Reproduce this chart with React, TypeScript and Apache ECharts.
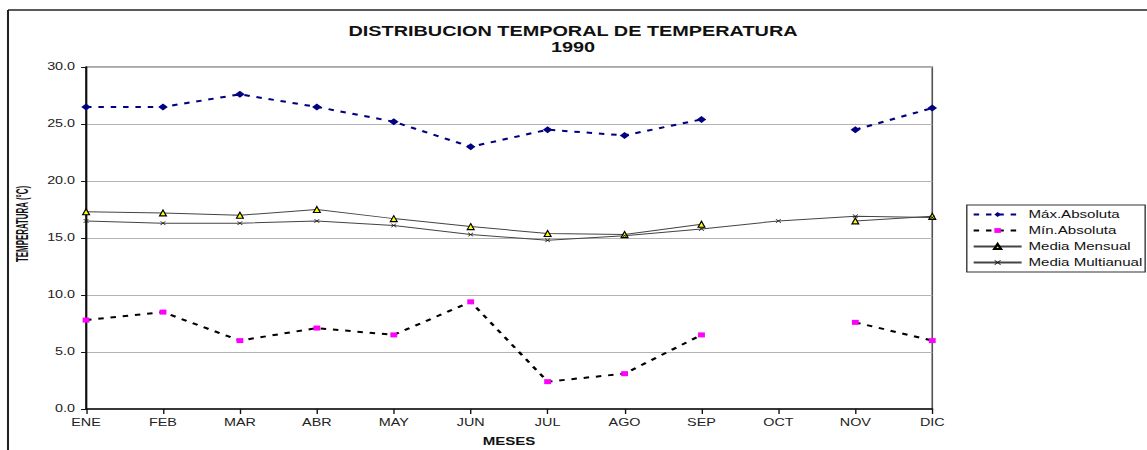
import React, { useEffect, useRef } from "react";
import * as echarts from "echarts";

const months = ["ENE", "FEB", "MAR", "ABR", "MAY", "JUN", "JUL", "AGO", "SEP", "OCT", "NOV", "DIC"];
const maxAbs = [26.5, 26.5, 27.6, 26.5, 25.2, 23.0, 24.5, 24.0, 25.4, null, 24.5, 26.4];
const minAbs = [7.8, 8.5, 6.0, 7.1, 6.5, 9.4, 2.4, 3.1, 6.5, null, 7.6, 6.0];
const mediaMensual = [17.3, 17.2, 17.0, 17.5, 16.7, 16.0, 15.4, 15.3, 16.2, null, 16.5, 16.9];
const mediaMultianual = [16.5, 16.3, 16.3, 16.5, 16.1, 15.3, 14.8, 15.2, 15.8, 16.5, 16.9, 16.8];
const seriesNames = ["Máx.Absoluta", "Mín.Absoluta", "Media Mensual", "Media Multianual"];
const titleText = "DISTRIBUCION TEMPORAL DE TEMPERATURA";
const subtitleText = "1990";

const INNER_W = 837;
const H = 450;
const SX = 1147 / INNER_W;
const FONT = "'Liberation Sans', Arial, sans-serif";
const X_SYMBOL = "path://M0,1L1,0L5,4L9,0L10,1L6,5L10,9L9,10L5,6L1,10L0,9L4,5Z";

export default function App() {
  const ref = useRef<HTMLDivElement>(null);
  useEffect(() => {
    if (!ref.current) return;
    const chart = echarts.init(ref.current, undefined, { renderer: "svg" });
    chart.setOption({
      animation: false,
      backgroundColor: "#ffffff",
      grid: {
        left: 62.8,
        right: INNER_W - 680.3,
        top: 67,
        bottom: 41,
        show: true,
        borderColor: "#555",
        borderWidth: 1.2,
      },
      legend: {
        orient: "vertical",
        left: 705.5,
        top: 205,
        data: seriesNames,
        itemWidth: 35,
        itemHeight: 6,
        itemGap: 5,
        padding: [4, 2, 4, 4],
        borderColor: "#333",
        borderWidth: 1,
        textStyle: { fontFamily: FONT, fontSize: 11, color: "#111" },
      },
      xAxis: {
        type: "category",
        data: months,
        boundaryGap: false,
        axisLine: { lineStyle: { color: "#111", width: 1.5 } },
        axisTick: { show: true, length: 5, lineStyle: { color: "#111" } },
        axisLabel: { margin: 8, fontFamily: FONT, fontSize: 10.5, color: "#222" },
        splitLine: { show: false },
      },
      yAxis: {
        type: "value",
        min: 0,
        max: 30,
        interval: 5,
        axisLine: { show: true, lineStyle: { color: "#111", width: 1.5 } },
        axisTick: { show: true, length: 3.6, lineStyle: { color: "#111" } },
        axisLabel: {
          margin: 8,
          fontFamily: FONT,
          fontSize: 10.5,
          color: "#222",
          formatter: (v: number) => v.toFixed(1),
        },
        splitLine: { lineStyle: { color: "#b4b4b4", width: 1 } },
      },
      graphic: [
        {
          type: "line",
          shape: { x1: 8 / SX, y1: 10, x2: INNER_W, y2: 10 },
          style: { stroke: "#222", lineWidth: 1.5 },
          silent: true,
        },
        {
          type: "line",
          shape: { x1: 8 / SX, y1: 10, x2: 8 / SX, y2: H },
          style: { stroke: "#222", lineWidth: 1.5 },
          silent: true,
        },
        {
          type: "text",
          x: 573 / SX,
          y: 31,
          style: {
            text: titleText,
            font: `bold 14.5px ${FONT}`,
            fill: "#111",
            align: "center",
            verticalAlign: "middle",
          },
          silent: true,
        },
        {
          type: "text",
          x: 573 / SX,
          y: 47,
          style: {
            text: subtitleText,
            font: `bold 14.5px ${FONT}`,
            fill: "#111",
            align: "center",
            verticalAlign: "middle",
          },
          silent: true,
        },
        {
          type: "text",
          x: 16,
          y: 224,
          rotation: Math.PI / 2,
          scaleX: 0.66,
          style: {
            text: "TEMPERATURA (°C)",
            font: `bold 12px ${FONT}`,
            fill: "#111",
            align: "center",
            verticalAlign: "middle",
          },
          silent: true,
        },
        {
          type: "text",
          x: 509 / SX,
          y: 441,
          style: {
            text: "MESES",
            font: `bold 11px ${FONT}`,
            fill: "#111",
            align: "center",
            verticalAlign: "middle",
          },
          silent: true,
        },
      ],
      series: [
        {
          name: seriesNames[0],
          type: "line",
          data: maxAbs,
          symbol: "diamond",
          symbolSize: 7,
          itemStyle: { color: "#000080" },
          lineStyle: { color: "#000080", width: 2, type: [4, 5] },
        },
        {
          name: seriesNames[1],
          type: "line",
          data: minAbs,
          symbol: "rect",
          symbolSize: [5, 5],
          itemStyle: { color: "#ff00ff" },
          lineStyle: { color: "#000000", width: 2, type: [4, 5] },
        },
        {
          name: seriesNames[2],
          type: "line",
          data: mediaMensual,
          symbol: "triangle",
          symbolSize: [5, 6],
          itemStyle: { color: "#ffff00", borderColor: "#000", borderWidth: 1 },
          lineStyle: { color: "#444", width: 1 },
        },
        {
          name: seriesNames[3],
          type: "line",
          data: mediaMultianual,
          symbol: X_SYMBOL,
          symbolSize: 4,
          itemStyle: { color: "#111" },
          lineStyle: { color: "#444", width: 1 },
        },
      ],
    });
    return () => chart.dispose();
  }, []);
  return (
    <div
      ref={ref}
      style={{
        position: "absolute",
        left: 0,
        top: 0,
        width: INNER_W,
        height: H,
        transform: `scaleX(${SX})`,
        transformOrigin: "0 0",
      }}
    />
  );
}
